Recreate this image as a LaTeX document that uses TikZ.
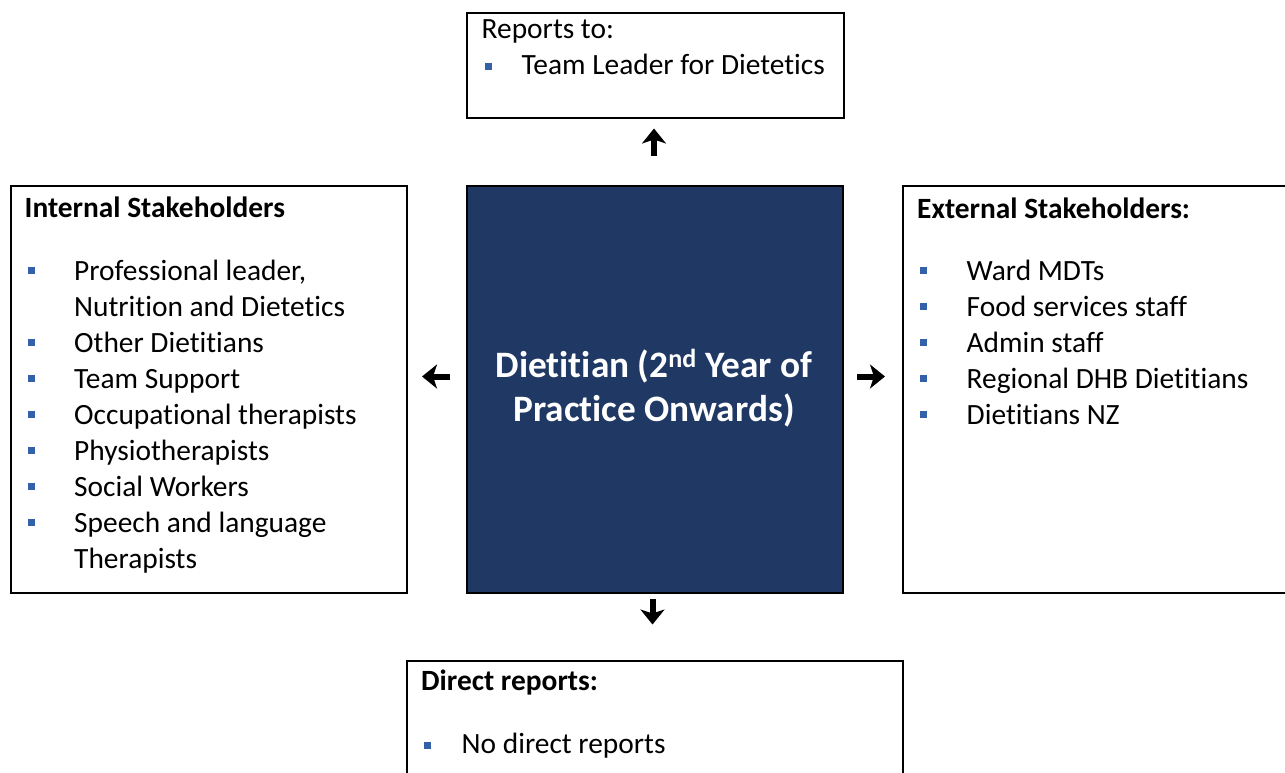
\documentclass[tikz,border=0pt]{standalone}
\usepackage{fontspec}
\setmainfont{Carlito}[Ligatures={NoCommon}]
\usetikzlibrary{arrows.meta}
\definecolor{navy}{HTML}{203864}
\definecolor{bulletblue}{HTML}{3360A9}
\tikzset{
  box/.style={draw=black, line width=2pt, rectangle, inner sep=0pt, anchor=north west},
  txt/.style={inner sep=0pt, anchor=base west, font=\fontsize{29.4}{36}\selectfont},
  hdr/.style={inner sep=0pt, anchor=base west, font=\fontsize{29.4}{36}\selectfont\bfseries},
  ctr/.style={inner sep=0pt, anchor=base, text=white, font=\fontsize{37.3}{45}\selectfont\bfseries},
  bul/.style={fill=bulletblue, draw=none, minimum size=7pt, inner sep=0pt, rectangle},
  bigarrow/.style={line width=6pt, -{Stealth[width=24pt,length=15pt,inset=4pt]}}
}
\begin{document}
\begin{tikzpicture}[x=1pt,y=-1pt]
\useasboundingbox (0,0) rectangle (1285,773);
\clip (0,0) rectangle (1285,773);
% boxes
\node[box, minimum width=377pt, minimum height=105pt] (top) at (465.5,12) {};
\node[box, minimum width=396pt, minimum height=407pt] (left) at (10,185) {};
\node[box, fill=navy, minimum width=376pt, minimum height=407pt] (center) at (466,185) {};
\node[box, minimum width=400pt, minimum height=407pt] (right) at (902,185) {};
\node[box, minimum width=496pt, minimum height=150pt] (bottom) at (406,660) {};
% top box text
\node[txt] (toph) at (481.5,39) {Reports to:};
\node[bul] (topb1) at (488,67) {};
\node[txt] (topt1) at (521.5,75) {Team Leader for Dietetics};
% center text
\node[ctr] (c1) at (654,377) {Dietitian (2\textsuperscript{nd} Year of};
\node[ctr] (c2) at (654,421.5) {Practice Onwards)};
% left box
\node[hdr] (lh) at (24.5,217) {Internal Stakeholders};
\node[bul] (lb1) at (31.5,270) {};
\node[txt] (lt1) at (74,280) {Professional leader,};
\node[txt] (lt1b) at (74,316) {Nutrition and Dietetics};
\node[bul] (lb2) at (31.5,342) {};
\node[txt] (lt2) at (74,352) {Other Dietitians};
\node[bul] (lb3) at (31.5,378) {};
\node[txt] (lt3) at (74,388) {Team Support};
\node[bul] (lb4) at (31.5,414) {};
\node[txt] (lt4) at (74,424) {Occupational therapists};
\node[bul] (lb5) at (31.5,450) {};
\node[txt] (lt5) at (74,460) {Physiotherapists};
\node[bul] (lb6) at (31.5,486) {};
\node[txt] (lt6) at (74,496) {Social Workers};
\node[bul] (lb7) at (31.5,522) {};
\node[txt] (lt7) at (74,532) {Speech and language};
\node[txt] (lt7b) at (74,568) {Therapists};
% right box
\node[hdr] (rh) at (917,218) {External Stakeholders:};
\node[bul] (rb1) at (923.5,270) {};
\node[txt] (rt1) at (966.5,280) {Ward MDTs};
\node[bul] (rb2) at (923.5,306) {};
\node[txt] (rt2) at (966.5,316) {Food services staff};
\node[bul] (rb3) at (923.5,342) {};
\node[txt] (rt3) at (966.5,352) {Admin staff};
\node[bul] (rb4) at (923.5,378) {};
\node[txt] (rt4) at (966.5,388) {Regional DHB Dietitians};
\node[bul] (rb5) at (923.5,414) {};
\node[txt] (rt5) at (966.5,424) {Dietitians NZ};
% bottom box
\node[hdr] (bh) at (421,690) {Direct reports:};
\node[bul] (bb1) at (427,745) {};
\node[txt] (bt1) at (461.5,753) {No direct reports};
% arrows
\coordinate (upS) at (654,156);
\coordinate (upE) at (654,128.5);
\coordinate (lfS) at (450,376.5);
\coordinate (lfE) at (422,376.5);
\coordinate (rtS) at (857,376.5);
\coordinate (rtE) at (885,376.5);
\coordinate (dnS) at (652.5,599);
\coordinate (dnE) at (652.5,624.5);
\draw[bigarrow] (upS) -- (upE);
\draw[bigarrow] (lfS) -- (lfE);
\draw[bigarrow] (rtS) -- (rtE);
\draw[bigarrow] (dnS) -- (dnE);
\end{tikzpicture}
\end{document}
